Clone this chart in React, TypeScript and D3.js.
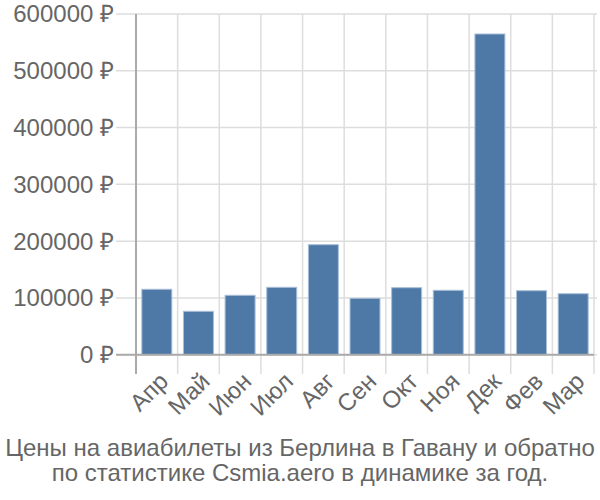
import React from "react";
import * as d3 from "d3";

const months = ["Апр", "Май", "Июн", "Июл", "Авг", "Сен", "Окт", "Ноя", "Дек", "Фев", "Мар"];
const prices = [115200, 76400, 104600, 118700, 193700, 99300, 118000, 113400, 564800, 112700, 107400];
const yTicks = [0, 100000, 200000, 300000, 400000, 500000, 600000];
const titleLines = [
  "Цены на авиабилеты из Берлина в Гавану и обратно",
  "по статистике Csmia.aero в динамике за год.",
];

const W = 600;
const H = 500;
const left = 136;
const right = 594;
const top = 14;
const bottom = 354.7;

export default function App() {
  const x = d3.scaleBand<string>().domain(months).range([left, right]).paddingInner(0.28).paddingOuter(0.14);
  const xg = d3.scaleBand<string>().domain(months).range([left, right]);
  const y = d3.scaleLinear().domain([0, 600000]).range([bottom, top]);
  const font = "'Liberation Sans', Arial, sans-serif";
  const textColor = "#666";
  return (
    <svg width={W} height={H} style={{ position: "absolute", left: 0, top: 0 }} fontFamily={font}>
      {yTicks.map((t) => (
        <line key={"h" + t} x1={116} x2={597} y1={y(t)} y2={y(t)} stroke="#ddd" strokeWidth={1.5} />
      ))}
      {months.map((m) => (
        <line key={"v" + m} x1={xg(m)!} x2={xg(m)!} y1={top} y2={374} stroke="#ddd" strokeWidth={1.5} />
      ))}
      <line x1={right} x2={right} y1={top} y2={374} stroke="#ddd" strokeWidth={1.5} />
      {months.map((m, i) => (
        <rect
          key={m}
          x={x(m)!}
          y={y(prices[i])}
          width={x.bandwidth()}
          height={bottom - y(prices[i])}
          fill="#4e79a7"
          stroke="#a8bfd8"
          strokeWidth={1}
        />
      ))}
      <line x1={left} x2={left} y1={top} y2={374} stroke="#aaa" strokeWidth={2} />
      <line x1={116} x2={right} y1={bottom} y2={bottom} stroke="#aaa" strokeWidth={2} />
      {yTicks.map((t) => (
        <text key={"yl" + t} x={114} y={y(t)} dy="0.35em" textAnchor="end" fontSize={24} fill={textColor}>
          {t} ₽
        </text>
      ))}
      {months.map((m) => {
        const cx = xg(m)! + xg.bandwidth() / 2;
        return (
          <text
            key={"xl" + m}
            transform={`translate(${cx + 1},${371}) rotate(-45)`}
            textAnchor="end"
            dy="0.7em"
            fontSize={24}
            fill={textColor}
          >
            {m}
          </text>
        );
      })}
      {titleLines.map((l, i) => (
        <text key={"t" + i} x={300} y={456 + i * 25} textAnchor="middle" fontSize={24} fill={textColor}>
          {l}
        </text>
      ))}
    </svg>
  );
}
